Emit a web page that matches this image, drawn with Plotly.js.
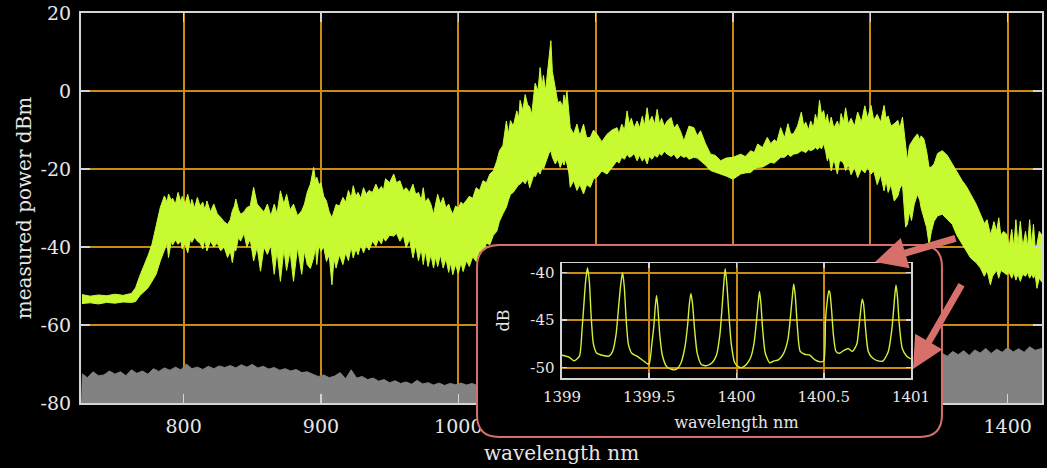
<!DOCTYPE html>
<html><head><meta charset="utf-8">
<script src="https://cdn.plot.ly/plotly-3.0.1.min.js"></script>
<style>html,body{margin:0;padding:0;background:#000;}#chart{width:1047px;height:468px;}</style>
</head><body><div id="chart"></div>
<script>
// ---- main spectrum: upper / lower envelope of the measured trace (nm, dBm)
const wavelength = [
726,732,738,744,750,756,762,765,768,771,
774,777,780,783,786,788,789,791,792,794,
796,798,799,801,803,805,806,808,810,812,
814,815.5,817,819.5,822,824.5,827,829.5,832,834,
835.5,837,838,840,841.5,844,846,848.5,851,853.5,
856,858.5,861,863.5,866,868,870.5,873,875,877.5,
880,883,886,888,890,892.3,894.7,896,897,898.5,
900,902,904,906,908,909.5,911,913.5,916,918,
920,922,923.5,925.5,927,929,931,933,935,937.5,
940,942,944,945.5,947,950,953,955,957.5,960,
962,964.5,967,969,971,973,974.5,976,978,980,
982,983.5,985,987,989,991,993,994.5,996,998,
1000,1002,1003.5,1006,1008,1010.5,1013,1015.5,1018,1020.5,
1023,1025.5,1028,1030,1032.5,1035,1036.5,1038,1040,1042.6,
1044,1045,1047,1048.7,1050.5,1052,1053.5,1055,1056,1058,
1059.6,1061,1062,1063.5,1064.5,1066,1067.4,1068.5,1070.6,1072.5,
1074.2,1076,1077,1078,1079.1,1080.5,1081.5,1084,1086.4,1088.5,
1091.2,1093.5,1096.1,1098.5,1101,1104.5,1108.3,1112,1115.6,1117,
1119,1121,1122.9,1124.5,1126,1128,1130.2,1132,1134,1135.5,
1137.5,1139,1141,1143,1144.8,1146.5,1148,1150,1152.1,1155,
1157,1159.4,1162,1164.2,1166,1168,1171.5,1174,1176.4,1180,
1183.7,1187,1191,1195,1200,1205.6,1209,1212.9,1215.5,1218,
1221.5,1225,1227.5,1230,1232,1234.7,1237.5,1240,1242,1244,
1247,1249.8,1251.5,1253,1255,1256.6,1258.5,1260,1261.5,1263,
1264.5,1266,1267.5,1268.7,1270,1271.5,1273.5,1276,1277.5,1278.7,
1280.5,1282,1284,1286,1288.5,1290.8,1293.5,1296,1298,1300.5,
1302.5,1305,1307.5,1310,1311.5,1313,1315,1317.4,1320,1321.5,
1323.4,1324.5,1325.7,1327,1328.5,1330,1332,1334.3,1336,1337,
1339,1341,1342.8,1344.5,1346.4,1349,1352.4,1356,1359.7,1363,
1366.9,1370,1373,1377,1380.2,1383,1385,1387.4,1389,1390,
1392,1393.5,1395,1397,1399.5,1401,1403,1404.5,1406,1407.5,
1409.2,1411,1413,1414.5,1416,1417.5,1418.8,1420,1421.3,1423,
1425];
const powerUpper = [
-52.2,-52.6,-52.3,-52.5,-52.1,-52.4,-51.9,-50.5,-47.5,-45,
-42.3,-39.3,-34.2,-29.9,-26.9,-28.5,-26.4,-28,-27.5,-29,
-26,-28.5,-27,-29,-26.5,-29.5,-27.8,-30,-27.3,-29.5,
-28.5,-30.5,-28.2,-31,-29,-31.5,-32.4,-33.5,-34.2,-33,
-30.7,-29.5,-27.7,-30.5,-31.6,-31,-29.9,-29.5,-24.7,-29,
-30,-31,-29,-32,-29,-31.5,-25.6,-29,-26.5,-30.5,
-29,-32,-30.7,-29,-26,-23.9,-19.6,-23,-22.1,-24,
-23.5,-27,-28.2,-31,-32.5,-31,-29.1,-29.5,-27.3,-28.5,
-25.5,-27.5,-24.3,-27,-26,-27.5,-24.8,-26.5,-25.5,-26,
-23.9,-25.5,-24.5,-25.5,-22.5,-23.5,-21.3,-23.5,-23,-25.5,
-24.8,-26,-23.9,-26.5,-26,-28,-24.8,-28.5,-27.5,-29,
-31.6,-29,-26.5,-29,-27.3,-30,-29,-30.5,-31.6,-29.5,
-30,-28.5,-29.1,-28,-27,-27.5,-24.8,-25.5,-23,-23.5,
-21.3,-20.5,-18,-15.3,-14,-7.7,-11,-7.6,-9,-5.1,
-7,-2.4,-5,-0.9,-3.5,-4.1,-6,-1,2,0,
6,1,4,0,3.4,8,12.9,5,0.9,-3,
-2.6,-4,-1,-3,0,-5,-9.4,-11,-8.5,-11.5,
-8.5,-12,-11.9,-10,-11.1,-13,-11.1,-10,-9.4,-11,
-8.5,-10,-5.1,-8.5,-7,-9.5,-7.7,-9.5,-6.5,-9,
-4.3,-8,-6.5,-8.5,-4.7,-8.5,-7,-9,-7.7,-6.8,
-9.5,-8.5,-10.5,-12.8,-11,-9,-9.4,-11.5,-10.2,-13.5,
-16.2,-16.5,-17.9,-17.2,-17,-16.2,-16.8,-15.3,-15.8,-13.6,
-14.5,-11.9,-13.5,-12.5,-13,-9.4,-12,-8.4,-11,-11,
-9,-5.4,-9,-8,-10,-7.7,-9.5,-6,-8,-2.4,
-6,-5,-8,-6,-9,-6.7,-9.5,-7.7,-9.5,-5.8,
-8,-4.3,-8.5,-7,-9,-5.4,-8,-3.8,-7,-3.7,
-7.5,-6,-8,-3.7,-7,-6.4,-9,-8.4,-7.5,-9.5,
-6.7,-10,-12.8,-17.9,-14,-13,-12,-11,-12.5,-11.5,
-12.3,-15.5,-19.6,-19.5,-18.7,-16,-15.3,-16.5,-18.7,-21,
-23,-24.5,-26.5,-29,-31.6,-34,-33,-36.8,-35,-33.5,
-36,-32.5,-37,-36,-36.8,-40,-35.5,-40,-33,-39.5,
-33.4,-40,-36,-40,-33,-39.5,-34.2,-40,-39.4,-36,
-37];
const powerLower = [
-54.5,-54.3,-54.6,-54.2,-54.4,-54.1,-54.2,-54,-52.5,-51.5,
-50.5,-48.8,-47,-43.6,-41,-39,-42.7,-38.5,-39.5,-38.2,
-39.3,-38.5,-40.5,-39,-41.5,-38,-38.8,-37.5,-38.5,-39,
-40.5,-38,-41,-38.5,-40,-39,-41,-40,-42.7,-41,
-44,-40.5,-41,-37.5,-38.5,-36.5,-40,-38,-43.6,-40,
-46.2,-40,-41.9,-39.5,-47,-41,-48.8,-40.5,-46,-41,
-48.8,-40,-47,-41,-44.5,-45.5,-42.7,-40,-44.5,-39.5,
-41.1,-40,-43.7,-42,-49.7,-43,-45.4,-42,-44.5,-41.5,
-43.5,-40,-42.8,-40.5,-42,-39.5,-41.5,-39.5,-40.8,-38.5,
-39.8,-38,-39.2,-37.5,-38.5,-37,-37.2,-36.5,-38.5,-37,
-40.2,-38,-42.8,-39.5,-43.5,-40.5,-44.5,-41,-45,-42,
-45.4,-42.5,-45,-42,-45.4,-43,-46.5,-44,-47.1,-44.5,
-46.8,-44,-46.3,-43.5,-45,-42.5,-43.7,-41,-41.5,-39,
-39.4,-37,-36,-33.4,-31.5,-29.8,-28,-26.5,-26,-24.7,
-24,-23.9,-23,-23.8,-22.5,-24.8,-23,-21.5,-22,-20.5,
-21.3,-19.5,-20,-18.5,-17.9,-16,-15.3,-17,-18.7,-17.5,
-19.6,-18,-19,-17.5,-18.7,-21,-24.7,-23,-25.5,-24,
-26.4,-24,-24.7,-22.5,-22.1,-20.5,-21.3,-19.5,-17.9,-18.5,
-17,-17.5,-16.2,-17,-16.8,-16,-17.9,-16.5,-18,-17,
-18.7,-16.8,-17.5,-16.5,-17,-16,-16.5,-15.5,-16.2,-16.8,
-16.2,-17.4,-16.5,-17,-16.8,-17.5,-17,-17.2,-17.9,-19,
-20.4,-20.8,-21.3,-21.8,-22.6,-21.3,-21,-20.9,-20,-19.6,
-19.5,-18.7,-18.3,-18.5,-17.8,-17,-17,-16.2,-16.8,-16.2,
-16,-15.3,-15.5,-15.8,-15,-15.3,-15,-14.5,-15,-14.4,
-14.8,-13.5,-15.5,-17.9,-16.5,-20.5,-17.5,-21.3,-18,-17.9,
-18.5,-20.4,-19,-21.5,-19.5,-22.2,-20,-21,-19.5,-21.3,
-20.5,-24,-21.5,-25.6,-23,-26,-24,-28.2,-27,-25,
-23.9,-30,-34.9,-34.2,-31,-33.2,-29,-26.5,-28,-30,
-32.5,-35,-39.4,-36,-33.4,-32,-31.6,-33,-34.2,-37,
-39.4,-41,-42.8,-44,-45.4,-47.5,-46,-49.7,-47.5,-47,
-46,-48,-46,-46.5,-47.1,-46.5,-48,-46.5,-48.5,-47,
-48.8,-47,-47.5,-46.5,-48,-47,-48,-47,-50.6,-48,
-49];

// ---- noise floor (grey), top edge
const floorWavelength = [726,730,734,738,742,746,750,754,758,762,766,770,774,778,782,786,790,794,798,802,806,810,814,818,822,826,830,834,838,842,846,850,854,858,862,866,870,874,878,882,886,890,894,898,902,906,910,914,918,922,926,930,934,938,942,946,950,954,958,962,966,970,974,978,982,986,990,994,998,1002,1006,1010,1014,1030,1050,1070,1090,1110,1130,1150,1170,1190,1210,1230,1250,1270,1290,1310,1330,1344,1352,1356,1360,1364,1368,1372,1376,1380,1384,1388,1392,1396,1400,1404,1408,1412,1416,1420,1425];
const floorPower = [-72.5,-73.5,-72,-73,-72.8,-71.8,-72.6,-72,-73,-71.5,-72.4,-71.8,-72.6,-71.2,-71.9,-71,-71.6,-70.8,-71.5,-70,-71.2,-70.8,-71.4,-70.6,-71.2,-70.5,-70.9,-70.4,-71,-70.2,-70.8,-70.1,-71,-70.6,-71.3,-70.9,-71.6,-71.2,-71.8,-71.4,-72.2,-72,-72.6,-73.2,-72.8,-73.5,-73.1,-72.2,-73.8,-71.5,-73.6,-73.2,-74,-73.6,-74.4,-74,-74.8,-74.3,-75,-74.6,-75.2,-74.2,-75.1,-74.8,-75.4,-74.9,-75.5,-75,-75.3,-74.9,-75.4,-75,-75.5,-75.2,-74.8,-74.3,-74,-73.5,-73,-72.6,-72,-71.6,-71,-70.5,-70,-69.5,-69,-68.5,-68,-67.8,-67.2,-68,-66.8,-67.6,-66.6,-67.8,-66.4,-67.2,-66,-67.3,-66.2,-67,-65.8,-66.9,-66.1,-67,-65.6,-66.5,-66];
const floorBase = [-80, -80];
const floorBaseWavelength = [725.3, 1425];

// ---- inset: zoom on 1399-1401 nm (dB)
const insetWavelength = [1399.00,1399.04,1399.07,1399.10,1399.115,1399.125,1399.135,1399.146,1399.157,1399.167,1399.18,1399.20,1399.23,1399.27,1399.29,1399.31,1399.325,1399.337,1399.347,1399.357,1399.368,1399.38,1399.40,1399.43,1399.46,1399.49,1399.50,1399.515,1399.527,1399.535,1399.542,1399.55,1399.56,1399.575,1399.60,1399.63,1399.655,1399.68,1399.705,1399.72,1399.73,1399.739,1399.748,1399.76,1399.775,1399.80,1399.83,1399.86,1399.885,1399.905,1399.918,1399.927,1399.935,1399.944,1399.955,1399.97,1399.99,1400.01,1400.03,1400.055,1400.08,1400.10,1400.115,1400.125,1400.132,1400.14,1400.15,1400.165,1400.19,1400.215,1400.24,1400.27,1400.295,1400.31,1400.32,1400.328,1400.337,1400.348,1400.365,1400.39,1400.42,1400.45,1400.48,1400.50,1400.51,1400.52,1400.529,1400.535,1400.545,1400.555,1400.57,1400.59,1400.615,1400.64,1400.665,1400.69,1400.70,1400.71,1400.72,1400.728,1400.74,1400.755,1400.78,1400.81,1400.84,1400.87,1400.89,1400.90,1400.907,1400.914,1400.922,1400.933,1400.95,1400.975,1401.00];
const insetPower = [-48.7,-48.9,-49.3,-48.8,-46,-43.5,-41,-39.5,-41,-44.5,-47.5,-48.5,-48.7,-48.8,-48.3,-46.5,-43.5,-41.2,-40,-41.5,-45,-47.5,-48.5,-48.8,-49.2,-49.6,-49.6,-47.5,-45.5,-43.5,-42.4,-43.8,-46.5,-48.7,-49.9,-50.2,-50.2,-49.6,-47.8,-45.5,-43.3,-42.2,-43.3,-46,-48.5,-49.7,-49.8,-49.5,-48.7,-46.5,-43.5,-41.2,-39.6,-41,-44,-47.5,-49.5,-49.9,-50,-49.7,-49,-47.5,-45,-43,-42,-43.3,-46,-48.5,-49.5,-49.3,-49.2,-48.5,-47,-44.5,-42.5,-41.2,-42.5,-45.5,-48.3,-48.6,-48.7,-49.2,-49.4,-49.3,-45,-43,-41.9,-42.1,-44,-46.5,-48.3,-48.5,-48.2,-48,-48.3,-47.5,-46,-44.3,-42.8,-43.3,-46,-48.3,-49,-49.3,-49.3,-48.3,-46,-44,-42.4,-41.3,-42.5,-45.5,-48,-48.8,-49.1];

// ---- tick labels (1100-1300 sit under the inset box in the original)
const mainXTicks = [800, 900, 1000, 1100, 1200, 1300, 1400];
const mainXTickText = ['800', '900', '1000', '', '', '', '1400'];
const mainYTicks = [-80, -60, -40, -20, 0, 20];
const mainYTickText = ['-80', '-60', '-40', '-20', '0', '20'];
const insetXTicks = [1399, 1399.5, 1400, 1400.5, 1401];
const insetXTickText = ['1399', '1399.5', '1400', '1400.5', '1401'];
const insetYTicks = [-50, -45, -40];
const insetYTickText = ['-50', '-45', '-40'];

const YELLOW = '#c8fa32';
const GREY = '#828282';
const GRID = '#c98b12';
const FRAME = '#d4d4d4';
const TXT = '#e6e6e6';
const SALMON = '#d7706a';
const FONT = 'DejaVu Serif';

const traces = [
  {x: floorBaseWavelength, y: floorBase, mode: 'lines', line: {width: 0, color: GREY}, hoverinfo: 'skip', xaxis: 'x', yaxis: 'y'},
  {x: floorWavelength, y: floorPower, mode: 'lines', line: {width: 1, color: GREY}, fill: 'tonexty', fillcolor: GREY, xaxis: 'x', yaxis: 'y'},
  {x: wavelength, y: powerLower, mode: 'lines', line: {width: 1, color: YELLOW}, xaxis: 'x', yaxis: 'y'},
  {x: wavelength, y: powerUpper, mode: 'lines', line: {width: 1, color: YELLOW}, fill: 'tonexty', fillcolor: YELLOW, xaxis: 'x', yaxis: 'y'},
  {x: [0.5], y: [0.5], mode: 'markers', marker: {opacity: 0, size: 1}, hoverinfo: 'skip', xaxis: 'x2', yaxis: 'y2'},
  {x: insetWavelength, y: insetPower, mode: 'lines', line: {width: 1.4, color: '#d4f03a', shape: 'spline', smoothing: 0.6}, xaxis: 'x3', yaxis: 'y3'}
];

// rounded box in x2/y2 unit coordinates (range 0..1)
const bx0 = 0.0043, bx1 = 0.9957, by0 = 0.0102, by1 = 0.9898, rx = 0.047, ry = 0.112;
const boxPath = `M${bx0+rx},${by0} L${bx1-rx},${by0} Q${bx1},${by0} ${bx1},${by0+ry} L${bx1},${by1-ry} Q${bx1},${by1} ${bx1-rx},${by1} L${bx0+rx},${by1} Q${bx0},${by1} ${bx0},${by1-ry} L${bx0},${by0+ry} Q${bx0},${by0} ${bx0+rx},${by0} Z`;

const axisStyle = {
  ticks: 'inside', tickcolor: FRAME, tickwidth: 1.5,
  showline: true, linecolor: FRAME, linewidth: 2, mirror: 'ticks',
  showgrid: true, gridcolor: GRID, gridwidth: 2, zeroline: false,
  tickmode: 'array', fixedrange: true
};

const layout = {
  width: 1047, height: 468,
  paper_bgcolor: '#000000', plot_bgcolor: 'rgba(0,0,0,0)',
  margin: {l: 81, r: 5, t: 13, b: 8},
  showlegend: false,
  font: {family: FONT, color: TXT, size: 19},
  xaxis: Object.assign({}, axisStyle, {
    domain: [0, 1], range: [725.3, 1425], anchor: 'y',
    tickvals: mainXTicks, ticktext: mainXTickText, ticklen: 9,
    tickfont: {size: 19, color: TXT}, ticklabelstandoff: 5,
    title: {text: 'wavelength nm', font: {size: 20, color: TXT}, standoff: 10}
  }),
  yaxis: Object.assign({}, axisStyle, {
    domain: [0.1275, 1], range: [-80, 20], anchor: 'x',
    tickvals: mainYTicks, ticktext: mainYTickText, ticklen: 9,
    tickfont: {size: 19, color: TXT}, ticklabelstandoff: 4,
    title: {text: 'measured power dBm', font: {size: 20, color: TXT}, standoff: 4}
  }),
  xaxis2: {domain: [0.4100, 0.8980], range: [0, 1], anchor: 'y2', visible: false, fixedrange: true},
  yaxis2: {domain: [0.0470, 0.4855], range: [0, 1], anchor: 'x2', visible: false, fixedrange: true},
  xaxis3: Object.assign({}, axisStyle, {
    domain: [0.5005, 0.8637], range: [1399, 1401], anchor: 'y3',
    tickvals: insetXTicks, ticktext: insetXTickText, ticklen: 5, linewidth: 1.5, gridwidth: 2,
    tickfont: {size: 15, color: TXT}, ticklabelstandoff: 4,
    title: {text: 'wavelength nm', font: {size: 16, color: TXT}, standoff: 12}
  }),
  yaxis3: Object.assign({}, axisStyle, {
    domain: [0.1834, 0.4407], range: [-51.1, -39], anchor: 'x3',
    tickvals: insetYTicks, ticktext: insetYTickText, ticklen: 5, linewidth: 1.5, gridwidth: 2,
    tickfont: {size: 15, color: TXT}, ticklabelstandoff: 3,
    title: {text: 'dB', font: {size: 16, color: TXT}, standoff: 16}
  }),
  shapes: [
    {type: 'path', xref: 'x2', yref: 'y2', layer: 'below', path: boxPath,
     fillcolor: '#000000', line: {color: SALMON, width: 2}}
  ],
  annotations: [
    {xref: 'paper', yref: 'paper', x: 0.8262, y: 0.4430, ax: 85, ay: -25, text: ' ',
     showarrow: true, arrowhead: 2, arrowsize: 0.9, arrowwidth: 7, arrowcolor: SALMON, standoff: 0},
    {xref: 'paper', yref: 'paper', x: 0.8658, y: 0.2036, ax: 53, ay: -92, text: ' ',
     showarrow: true, arrowhead: 2, arrowsize: 0.9, arrowwidth: 7, arrowcolor: SALMON, standoff: 0}
  ]
};

Plotly.newPlot('chart', traces, layout, {displayModeBar: false, staticPlot: true});
</script>
</body></html>
